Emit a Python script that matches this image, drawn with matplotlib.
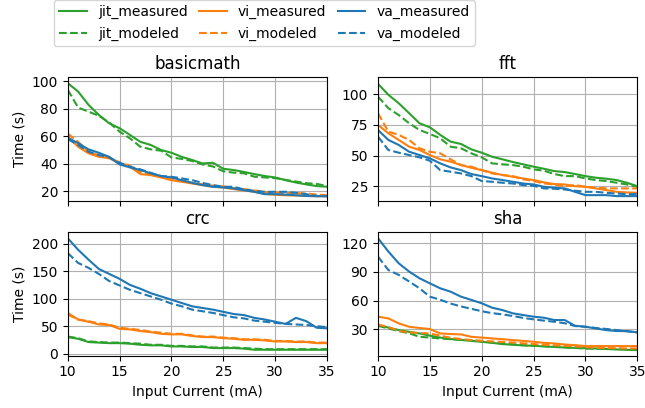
import matplotlib
matplotlib.use("Agg")
import matplotlib.pyplot as plt
import numpy as np

current = list(range(10, 36))

basicmath = {
    "jit_measured": [98.8, 92.7, 83, 75.6, 69.5, 65.9, 61, 56, 53.7, 50, 48, 45, 42.7, 40.2, 40.7, 36.3, 35.4, 34, 32.4, 31, 30, 28, 26.3, 24.9, 23.7, 23.2],
    "jit_modeled": [94, 81, 78, 75, 70, 63.4, 58.5, 52.4, 50.5, 49.5, 44.6, 43.5, 42, 39.5, 38, 34.5, 33.5, 33, 30.5, 30, 29.5, 28.2, 27, 25.8, 25.3, 23.7],
    "vi_measured": [60, 52.4, 47.6, 45, 44, 40.2, 37.8, 32.4, 31.7, 30, 28, 26.8, 25.6, 24.4, 23.2, 22.7, 21.5, 20.5, 19.5, 18, 17.3, 17, 16.8, 16.5, 16.3, 16.3],
    "vi_modeled": [62, 56, 49, 46, 44.5, 41, 38.5, 34, 32.5, 31, 29, 27.5, 26, 25, 24, 23.5, 22, 21.5, 20.5, 19.5, 19, 18.8, 18.5, 18.3, 17.5, 17],
    "va_measured": [59, 55, 50.5, 48, 45, 39.5, 37.3, 35.4, 33, 31, 30, 28, 26, 24.4, 23.2, 22.7, 22, 20.7, 19.5, 17.8, 17.8, 17.5, 17, 16.5, 16.3, 16.3],
    "va_modeled": [58, 53.7, 48.8, 46.3, 44.6, 40.7, 37.8, 35.9, 33.4, 31, 30.5, 29.3, 28, 26, 24.4, 23.2, 23.2, 21.2, 20.2, 19.5, 19.5, 19.5, 18.8, 17.8, 16.5, 16.3],
}

fft = {
    "jit_measured": [108.4, 99.5, 92.6, 84.5, 76.3, 73, 66.8, 61.3, 59.4, 55, 52.3, 49, 46.9, 44.7, 42.8, 40.9, 39.2, 37.3, 36.5, 34.9, 33.2, 31.9, 31.1, 30, 27.8, 25],
    "jit_modeled": [98, 88.6, 83, 76.3, 70.8, 67.6, 64, 57.2, 55.9, 51.8, 48.5, 43.6, 42.8, 42.2, 40.9, 38.7, 37.6, 34.9, 33.2, 33.2, 31.3, 30, 29.2, 27.8, 26.4, 24.5],
    "vi_measured": [75, 68.1, 62.7, 57.2, 54.5, 50.4, 46.9, 45, 42.2, 40, 38.1, 36, 34.1, 32.7, 31.3, 30, 28.1, 26.7, 26.4, 25, 24.5, 23.2, 21.8, 20.4, 19.9, 19.6],
    "vi_modeled": [84.5, 69.5, 66.8, 62.7, 55.9, 53.1, 51.8, 46.9, 42.2, 40.9, 38.1, 35.4, 34.1, 33.2, 30.5, 29.2, 27.2, 26.4, 25, 25.9, 24.5, 23.7, 23.2, 23.2, 23.2, 23.2],
    "va_measured": [70.8, 62.7, 58.6, 53.1, 50.4, 47.7, 43.6, 40.3, 38.1, 34.9, 33.2, 31.3, 30, 28.6, 27.2, 26.4, 24.5, 23.7, 23.2, 20.4, 17.7, 17.7, 17.7, 16.9, 16.9, 16.9],
    "va_modeled": [65.4, 54.5, 52.3, 50.4, 48.5, 45.8, 38.1, 36.8, 35.4, 33.2, 29.2, 28.6, 27.8, 27.2, 25.9, 25.3, 23.2, 22.9, 22.3, 21.3, 20.4, 20.4, 19.6, 19, 18.5, 18.5],
}

crc = {
    "jit_measured": [30, 27, 21, 20, 19, 19, 18, 16, 15, 15, 13, 13, 12, 12, 10, 10, 10, 9, 7, 7, 7, 7, 7, 7, 7, 7],
    "jit_modeled": [31, 28, 22, 21, 20, 20, 19, 18, 16, 16, 14, 14, 13, 13, 11, 11, 11, 10, 9, 8, 8, 8, 8, 8, 8, 8],
    "vi_measured": [74, 62, 58, 53, 52, 45, 44, 41, 39, 36, 35, 35, 32, 30, 30, 28, 27, 25, 25, 24, 22, 22, 21, 21, 19, 19],
    "vi_modeled": [71, 62, 59, 55, 53, 47, 45, 43, 40, 38, 36, 36, 33, 31, 31, 29, 28, 26, 26, 25, 23, 23, 22, 22, 20, 20],
    "va_measured": [210, 189, 171, 154, 145, 136, 125, 118, 110, 104, 98, 92, 86, 83, 80, 76, 72, 70, 65, 62, 58, 54, 65, 59, 47, 46],
    "va_modeled": [183, 165, 156, 145, 132, 124, 116, 110, 104, 98, 91, 86, 80, 77, 74, 70, 66, 64, 60, 58, 56, 54, 53, 52, 50, 48],
}

sha = {
    "jit_measured": [34.5, 32, 29.3, 27.5, 25.8, 23.5, 21.5, 20, 19, 18, 17.1, 16, 14.7, 14, 13.3, 12.9, 12.3, 11.7, 11.2, 10.8, 10.4, 10.1, 9.6, 9.1, 8.7, 8.4],
    "jit_modeled": [33.8, 31, 28.3, 26, 22.3, 21.5, 20.6, 19.8, 19.2, 18.9, 17.5, 16.3, 15.4, 14.5, 13.6, 13, 12.5, 11.9, 11.3, 10.7, 10.1, 9.9, 9.8, 9.6, 9.5, 9.4],
    "vi_measured": [43.3, 41.5, 36.3, 32.8, 31.5, 30.4, 25.8, 25.2, 24.8, 22.3, 21.5, 20.6, 19.8, 18.9, 18, 17.1, 16, 15.4, 14.2, 13.6, 12.6, 12.6, 12.6, 12.6, 12.6, 12.6],
    "vi_modeled": [35.2, 32.5, 28.3, 27, 26.2, 25.8, 23.5, 21.3, 20, 18.9, 18.2, 17.5, 16.9, 16.4, 15.5, 14.7, 14, 13.5, 12.9, 12.3, 11.6, 10.8, 10.6, 10.4, 10.2, 10.1],
    "va_measured": [125.2, 111.3, 99, 90.4, 83.4, 78.1, 72.9, 69.4, 64.2, 60.8, 57.3, 52.7, 50.2, 46.8, 45, 43.3, 42.2, 39.8, 39.8, 33.8, 32.8, 31, 29.3, 28.3, 28.3, 26.9],
    "va_modeled": [106, 92, 86.9, 80, 73, 64.2, 61, 57, 54, 51.5, 49, 47, 45.7, 44, 42, 40.5, 39.2, 38, 36.5, 33.5, 32.8, 31.5, 30.5, 29.3, 28, 26.9],
}

series = ["jit_measured", "jit_modeled", "vi_measured", "vi_modeled", "va_measured", "va_modeled"]
colors = {"jit": "#2ca02c", "vi": "#ff7f0e", "va": "#1f77b4"}

panels = [
    ("basicmath", basicmath, (12.7, 103.2), [20, 40, 60, 80, 100]),
    ("fft", fft, (12.8, 113.9), [25, 50, 75, 100]),
    ("crc", crc, (-4, 221), [0, 50, 100, 150, 200]),
    ("sha", sha, (2.5, 131.5), [30, 60, 90, 120]),
]

fig = plt.figure(figsize=(6.45, 4.08), dpi=100)
rects = [
    [0.105, 0.507, 0.402, 0.304],
    [0.586, 0.507, 0.402, 0.304],
    [0.105, 0.128, 0.402, 0.303],
    [0.586, 0.128, 0.402, 0.303],
]

handles = []
for i, (title, data, ylim, yticks) in enumerate(panels):
    ax = fig.add_axes(rects[i])
    for name in series:
        prefix, kind = name.split("_")
        ls = "-" if kind == "measured" else "--"
        ln, = ax.plot(current, data[name], color=colors[prefix], linestyle=ls, linewidth=1.5, label=name)
        if i == 0:
            handles.append(ln)
    ax.set_title(title, fontsize=12)
    ax.set_xlim(10, 35)
    ax.set_xticks([10, 15, 20, 25, 30, 35])
    ax.set_ylim(*ylim)
    ax.set_yticks(yticks)
    ax.grid(True, color="#b0b0b0", linewidth=0.8)
    ax.set_axisbelow(True)
    if i < 2:
        ax.set_xticklabels([])
    else:
        ax.set_xlabel("Input Current (mA)")
    if i % 2 == 0:
        ax.set_ylabel("Time (s)")

fig.legend(handles=handles, labels=series, loc="lower center", ncol=3,
           bbox_to_anchor=(0.41, 0.87), frameon=True, fontsize=10,
           handlelength=2.0, columnspacing=0.8)

fig.savefig("out.png", dpi=100)
